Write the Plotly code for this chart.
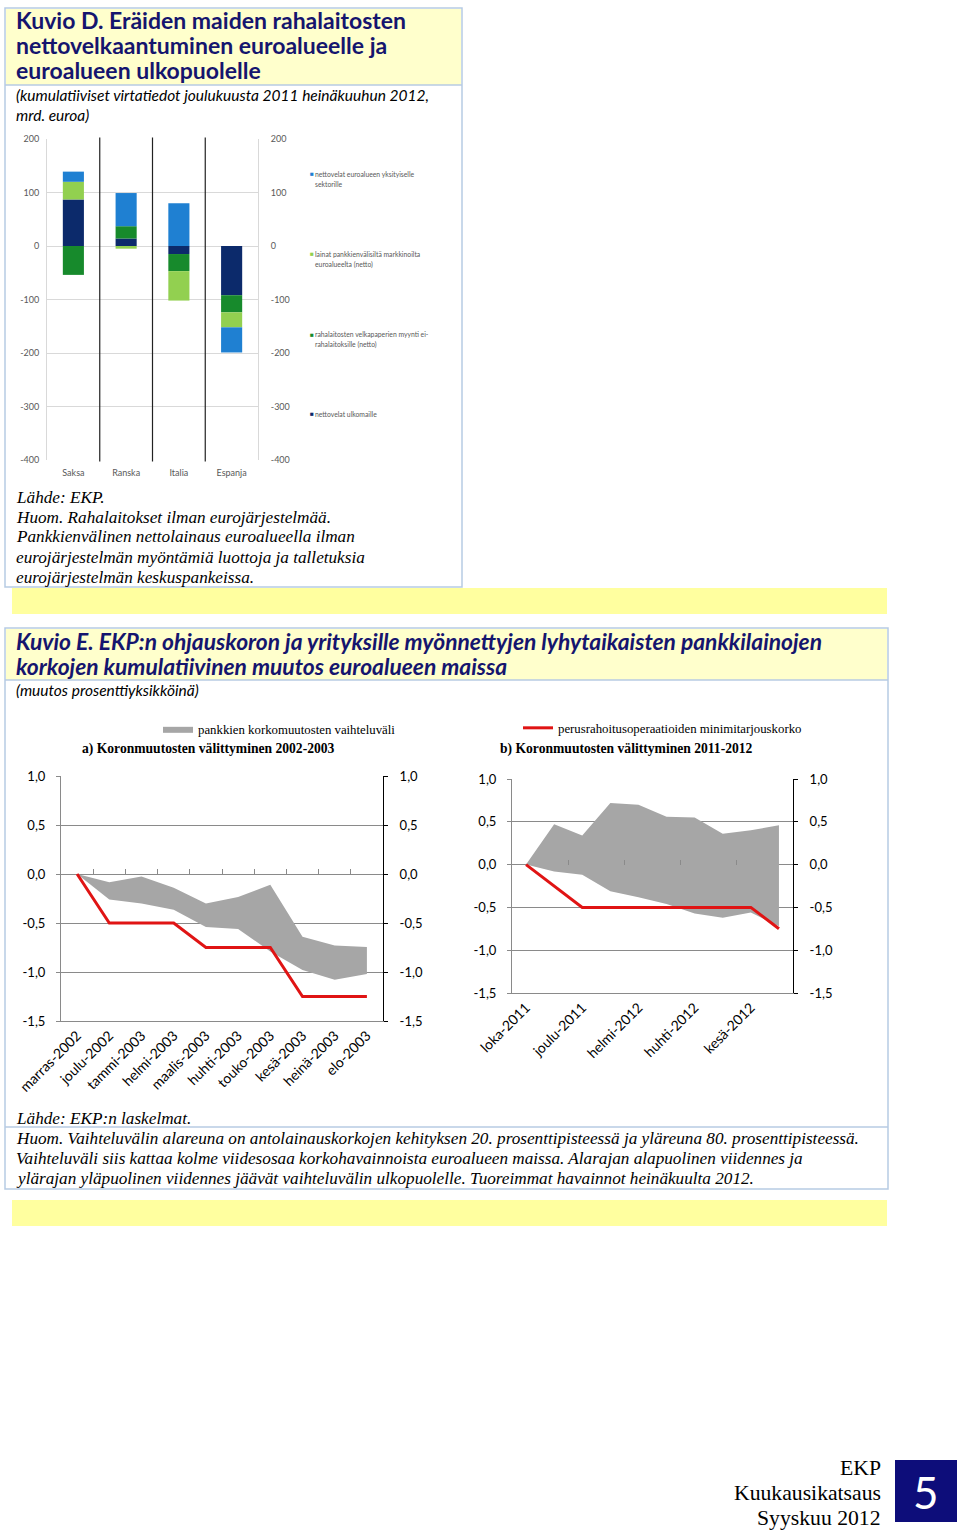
import plotly.graph_objects as go

W, H = 960, 1531

# ---------------- Kuvio D data (mrd. euroa) ----------------
COUNTRIES = ["Saksa", "Ranska", "Italia", "Espanja"]
D_ULKOMAILLE = [87, 14, -15, -92]          # nettovelat ulkomaille
D_VELKAPAPERIT = [-54, 23, -32, -32]       # rahalaitosten velkapaperien myynti
D_PANKKIENVALISET = [33, -5, -55, -28]     # lainat pankkienvälisiltä markkinoilta
D_YKSITYISELLE = [19, 62, 80, -47]         # nettovelat euroalueen yksityiselle sektorille
D_TICKS = [200, 100, 0, -100, -200, -300, -400]
D_TICKTEXT = ["200", "100", "0", "-100", "-200", "-300", "-400"]

# ---------------- Kuvio E data (prosenttiyksikköä) ----------------
MONTHS_A = ["marras-2002", "joulu-2002", "tammi-2003", "helmi-2003", "maalis-2003",
            "huhti-2003", "touko-2003", "kesä-2003", "heinä-2003", "elo-2003"]
ECB_A = [0, -0.5, -0.5, -0.5, -0.75, -0.75, -0.75, -1.25, -1.25, -1.25]
BAND_A_HIGH = [0, -0.085, -0.025, -0.14, -0.30, -0.235, -0.11, -0.64, -0.73, -0.745]
BAND_A_LOW = [0, -0.26, -0.30, -0.365, -0.54, -0.56, -0.79, -0.98, -1.08, -1.02]

MONTHS_B = ["loka-2011", "marras-2011", "joulu-2011", "tammi-2012", "helmi-2012",
            "maalis-2012", "huhti-2012", "touko-2012", "kesä-2012", "heinä-2012"]
MONTHS_B_LABELED = ["loka-2011", "joulu-2011", "helmi-2012", "huhti-2012", "kesä-2012"]
ECB_B = [0, -0.25, -0.5, -0.5, -0.5, -0.5, -0.5, -0.5, -0.5, -0.75]
BAND_B_HIGH = [0, 0.47, 0.34, 0.72, 0.70, 0.56, 0.55, 0.36, 0.40, 0.46]
BAND_B_LOW = [0, -0.08, -0.12, -0.31, -0.38, -0.46, -0.57, -0.62, -0.56, -0.72]

E_TICKS = [1.0, 0.5, 0.0, -0.5, -1.0, -1.5]
E_TICKTEXT = ["1,0", "0,5", "0,0", "-0,5", "-1,0", "-1,5"]

# ---------------- styling ----------------
NAVY = "#0c2a6b"
DGREEN = "#178a2c"
LGREEN = "#92d050"
BLUE = "#1f80d2"
BAND = "#a6a6a6"
RED = "#e01414"
TITLE_C = "#15156e"
BORDER = "#b7cbe3"
PALE = "#ffffcc"
YEL = "#ffff9f"
SERIF = "Liberation Serif"
SANS = "Lato"


def px(x):
    return x / W


def py(y):
    return 1 - y / H


fig = go.Figure()

# ---- Kuvio D bars
for name, vals, col in [
    ("nettovelat ulkomaille", D_ULKOMAILLE, NAVY),
    ("rahalaitosten velkapaperien myynti ei-rahalaitoksille (netto)", D_VELKAPAPERIT, DGREEN),
    ("lainat pankkienvälisiltä markkinoilta euroalueelta (netto)", D_PANKKIENVALISET, LGREEN),
    ("nettovelat euroalueen yksityiselle sektorille", D_YKSITYISELLE, BLUE),
]:
    fig.add_trace(go.Bar(x=COUNTRIES, y=vals, name=name, marker=dict(color=col, line=dict(width=0)),
                         width=0.4, xaxis="x", yaxis="y", showlegend=False))
# invisible companion so the right-hand axis of Kuvio D is drawn
fig.add_trace(go.Scatter(x=COUNTRIES, y=D_ULKOMAILLE, mode="markers", marker=dict(opacity=0),
                         xaxis="x", yaxis="y2", showlegend=False, hoverinfo="skip"))

# ---- Kuvio E a
fig.add_trace(go.Scatter(x=MONTHS_A, y=BAND_A_LOW, mode="lines", line=dict(width=0, color=BAND),
                         xaxis="x2", yaxis="y3", showlegend=False, hoverinfo="skip"))
fig.add_trace(go.Scatter(x=MONTHS_A, y=BAND_A_HIGH, mode="lines", line=dict(width=0, color=BAND),
                         fill="tonexty", fillcolor=BAND, name="pankkien korkomuutosten vaihteluväli",
                         xaxis="x2", yaxis="y3", showlegend=True, legend="legend"))
fig.add_trace(go.Scatter(x=MONTHS_A, y=ECB_A, mode="lines", line=dict(width=3, color=RED),
                         name="perusrahoitusoperaatioiden minimitarjouskorko",
                         xaxis="x2", yaxis="y3", showlegend=True, legend="legend2"))
# invisible companions for right axis and zero-line tick axis
fig.add_trace(go.Scatter(x=MONTHS_A, y=ECB_A, mode="markers", marker=dict(opacity=0),
                         xaxis="x2", yaxis="y4", showlegend=False, hoverinfo="skip"))
fig.add_trace(go.Scatter(x=list(range(len(MONTHS_A))), y=ECB_A, mode="markers", marker=dict(opacity=0),
                         xaxis="x3", yaxis="y3", showlegend=False, hoverinfo="skip"))

# ---- Kuvio E b
fig.add_trace(go.Scatter(x=MONTHS_B, y=BAND_B_LOW, mode="lines", line=dict(width=0, color=BAND),
                         xaxis="x4", yaxis="y5", showlegend=False, hoverinfo="skip"))
fig.add_trace(go.Scatter(x=MONTHS_B, y=BAND_B_HIGH, mode="lines", line=dict(width=0, color=BAND),
                         fill="tonexty", fillcolor=BAND, name="pankkien korkomuutosten vaihteluväli",
                         xaxis="x4", yaxis="y5", showlegend=False))
fig.add_trace(go.Scatter(x=MONTHS_B, y=ECB_B, mode="lines", line=dict(width=3, color=RED),
                         name="perusrahoitusoperaatioiden minimitarjouskorko",
                         xaxis="x4", yaxis="y5", showlegend=False))
fig.add_trace(go.Scatter(x=MONTHS_B, y=ECB_B, mode="markers", marker=dict(opacity=0),
                         xaxis="x4", yaxis="y6", showlegend=False, hoverinfo="skip"))
fig.add_trace(go.Scatter(x=list(range(len(MONTHS_B))), y=ECB_B, mode="markers", marker=dict(opacity=0),
                         xaxis="x5", yaxis="y5", showlegend=False, hoverinfo="skip"))

grayD = "#d9d9d9"
tickD = dict(family=SANS, size=9, color="#595959")
gridE = "#8a8a8a"
tickE = dict(family=SANS, size=13, color="#000000")

layout_axes = dict(
    # Kuvio D
    xaxis=dict(domain=[px(47), px(258)], anchor="y", type="category", categoryarray=COUNTRIES,
               range=[-0.5, 3.5], showgrid=False, ticks="", tickfont=tickD, showline=False,
               ticklabelstandoff=6, automargin=False),
    yaxis=dict(domain=[py(460), py(139)], anchor="x", range=[-400, 200], tickvals=D_TICKS,
               ticktext=D_TICKTEXT, gridcolor=grayD, showline=True, linecolor=grayD, zeroline=False,
               ticks="", tickfont=tickD, ticklabelstandoff=5, automargin=False),
    yaxis2=dict(overlaying="y", side="right", anchor="x", range=[-400, 200], tickvals=D_TICKS,
                ticktext=D_TICKTEXT, showgrid=False, showline=True, linecolor=grayD, zeroline=False,
                ticks="", tickfont=tickD, ticklabelstandoff=10, automargin=False),
    # Kuvio E a
    xaxis2=dict(domain=[px(61), px(383)], anchor="y3", type="category", categoryarray=MONTHS_A,
                range=[-0.5, 9.5], tickangle=-45, tickfont=dict(family=SANS, size=14, color="#000"),
                showgrid=False, showline=True, linecolor=gridE, ticks="", automargin=False),
    yaxis3=dict(domain=[py(1021), py(776)], anchor="x2", range=[-1.5, 1.0], tickvals=E_TICKS,
                ticktext=E_TICKTEXT, gridcolor=gridE, showline=True, linecolor=gridE, zeroline=False,
                ticks="outside", ticklen=4, tickcolor=gridE, tickfont=tickE, ticklabelstandoff=8,
                automargin=False),
    yaxis4=dict(overlaying="y3", side="right", anchor="x2", range=[-1.5, 1.0], tickvals=E_TICKS,
                ticktext=E_TICKTEXT, showgrid=False, showline=True, linecolor="#000", zeroline=False,
                ticks="outside", ticklen=4, tickcolor="#000", tickfont=tickE, ticklabelstandoff=9,
                automargin=False),
    xaxis3=dict(overlaying="x2", anchor="free", position=py(874), range=[-0.5, 9.5],
                tickvals=[0.5, 1.5, 2.5, 3.5, 4.5, 5.5, 6.5, 7.5, 8.5], ticks="inside", ticklen=5,
                tickcolor=gridE, showticklabels=False, showgrid=False, showline=False, zeroline=False,
                automargin=False),
    # Kuvio E b
    xaxis4=dict(domain=[px(512), px(793)], anchor="y5", type="category", categoryarray=MONTHS_B,
                range=[-0.5, 9.5], tickvals=MONTHS_B_LABELED, tickangle=-45,
                tickfont=dict(family=SANS, size=14, color="#000"),
                showgrid=False, showline=True, linecolor=gridE, ticks="", automargin=False),
    yaxis5=dict(domain=[py(993), py(779)], anchor="x4", range=[-1.5, 1.0], tickvals=E_TICKS,
                ticktext=E_TICKTEXT, gridcolor=gridE, showline=True, linecolor=gridE, zeroline=False,
                ticks="outside", ticklen=4, tickcolor=gridE, tickfont=tickE, ticklabelstandoff=8,
                automargin=False),
    yaxis6=dict(overlaying="y5", side="right", anchor="x4", range=[-1.5, 1.0], tickvals=E_TICKS,
                ticktext=E_TICKTEXT, showgrid=False, showline=True, linecolor="#000", zeroline=False,
                ticks="outside", ticklen=4, tickcolor="#000", tickfont=tickE, ticklabelstandoff=9,
                automargin=False),
    xaxis5=dict(overlaying="x4", anchor="free", position=py(864.5), range=[-0.5, 9.5],
                tickvals=[1.5, 3.5, 5.5, 7.5], ticks="inside", ticklen=5,
                tickcolor=gridE, showticklabels=False, showgrid=False, showline=False, zeroline=False,
                automargin=False),
)

shapes = []
# boxes & fills
shapes.append(dict(type="rect", xref="paper", yref="paper", x0=px(6), x1=px(461), y0=py(85), y1=py(9),
                   fillcolor=PALE, line=dict(width=0), layer="below"))
shapes.append(dict(type="rect", xref="paper", yref="paper", x0=px(5), x1=px(462), y0=py(587), y1=py(8),
                   line=dict(color=BORDER, width=1.5), layer="below"))
shapes.append(dict(type="line", xref="paper", yref="paper", x0=px(5), x1=px(462), y0=py(85), y1=py(85),
                   line=dict(color=BORDER, width=1.5)))
shapes.append(dict(type="rect", xref="paper", yref="paper", x0=px(12), x1=px(887), y0=py(614), y1=py(588),
                   fillcolor=YEL, line=dict(width=0), layer="below"))
shapes.append(dict(type="rect", xref="paper", yref="paper", x0=px(6), x1=px(887), y0=py(680), y1=py(629),
                   fillcolor=PALE, line=dict(width=0), layer="below"))
shapes.append(dict(type="rect", xref="paper", yref="paper", x0=px(5), x1=px(888), y0=py(1189), y1=py(628),
                   line=dict(color=BORDER, width=1.5), layer="below"))
shapes.append(dict(type="line", xref="paper", yref="paper", x0=px(5), x1=px(888), y0=py(680), y1=py(680),
                   line=dict(color=BORDER, width=1.5)))
shapes.append(dict(type="line", xref="paper", yref="paper", x0=px(5), x1=px(888), y0=py(1127), y1=py(1127),
                   line=dict(color=BORDER, width=1.5)))
shapes.append(dict(type="rect", xref="paper", yref="paper", x0=px(12), x1=px(887), y0=py(1226), y1=py(1200),
                   fillcolor=YEL, line=dict(width=0), layer="below"))
shapes.append(dict(type="rect", xref="paper", yref="paper", x0=px(895), x1=px(957), y0=py(1522), y1=py(1460),
                   fillcolor="#0d0d7a", line=dict(width=0), layer="below"))
# category separators in Kuvio D
for b in [0.5, 1.5, 2.5]:
    shapes.append(dict(type="line", xref="x", yref="y domain", x0=b, x1=b, y0=-0.005, y1=1.005,
                       line=dict(color="#222222", width=1.2)))

ann = []


def text(x, y, s, size, family=SERIF, color="#000", style="normal", weight="normal", xanchor="left"):
    ann.append(dict(x=px(x), y=py(y), xref="paper", yref="paper", text=s, showarrow=False,
                    xanchor=xanchor, yanchor="middle", align="left",
                    font=dict(family=family, size=size, color=color, style=style, weight=weight)))


# Kuvio D header
text(14, 20, "Kuvio D. Eräiden maiden rahalaitosten", 23, SANS, TITLE_C, weight="bold")
text(14, 45, "nettovelkaantuminen euroalueelle ja", 23, SANS, TITLE_C, weight="bold")
text(14, 70, "euroalueen ulkopuolelle", 23, SANS, TITLE_C, weight="bold")
text(14, 95, "(kumulatiiviset virtatiedot joulukuusta 2011 heinäkuuhun 2012,", 15.5, SANS, "#000", style="italic")
text(14, 115, "mrd. euroa)", 15.5, SANS, "#000", style="italic")

# Kuvio D legend (keys + labels)
leg_items = [
    (174, BLUE, "nettovelat euroalueen yksityiselle", "sektorille"),
    (254, LGREEN, "lainat pankkienvälisiltä markkinoilta", "euroalueelta (netto)"),
    (334, DGREEN, "rahalaitosten velkapaperien myynti ei-", "rahalaitoksille (netto)"),
    (414, NAVY, "nettovelat ulkomaille", None),
]
for yy, col, l1, l2 in leg_items:
    text(308, yy, "■", 6.5, SANS, col)
    text(313, yy, l1, 6.8, SANS, "#595959")
    if l2:
        text(313, yy + 10, l2, 6.8, SANS, "#595959")

# Kuvio D notes
notes_d = ["Lähde: EKP.", "Huom. Rahalaitokset ilman eurojärjestelmää.",
           "Pankkienvälinen nettolainaus euroalueella ilman",
           "eurojärjestelmän myöntämiä luottoja ja talletuksia",
           "eurojärjestelmän keskuspankeissa."]
for i, s in enumerate(notes_d):
    text(14, 497 + i * 20, s, 17.2, SERIF, "#000", style="italic")

# Kuvio E header
text(14, 641, "Kuvio E. EKP:n ohjauskoron ja yrityksille myönnettyjen lyhytaikaisten pankkilainojen", 22.8,
     SANS, TITLE_C, style="italic", weight="bold")
text(14, 666, "korkojen kumulatiivinen muutos euroalueen maissa", 22.8, SANS, TITLE_C, style="italic", weight="bold")
text(14, 690, "(muutos prosenttiyksikköinä)", 15.5, SANS, "#000", style="italic")

text(80, 749, "a) Koronmuutosten välittyminen 2002-2003", 13.6, SERIF, "#000", weight="bold")
text(498, 749, "b) Koronmuutosten välittyminen 2011-2012", 13.6, SERIF, "#000", weight="bold")

notes_e = ["Huom. Vaihteluvälin alareuna on antolainauskorkojen kehityksen 20. prosenttipisteessä ja yläreuna 80. prosenttipisteessä.",
           "Vaihteluväli siis kattaa kolme viidesosaa korkohavainnoista euroalueen maissa. Alarajan alapuolinen viidennes ja",
           "ylärajan yläpuolinen viidennes jäävät vaihteluvälin ulkopuolelle. Tuoreimmat havainnot heinäkuulta 2012."]
text(14, 1118, "Lähde: EKP:n laskelmat.", 17.2, SERIF, "#000", style="italic")
for i, s in enumerate(notes_e):
    text(14, 1138 + i * 20, s, 17.2, SERIF, "#000", style="italic")

# footer
text(883, 1468, "EKP", 21.7, SERIF, "#000", xanchor="right")
text(883, 1493, "Kuukausikatsaus", 21.7, SERIF, "#000", xanchor="right")
text(883, 1518, "Syyskuu 2012", 21.7, SERIF, "#000", xanchor="right")
ann.append(dict(x=px(926), y=py(1492), xref="paper", yref="paper", text="5", showarrow=False,
                xanchor="center", yanchor="middle", font=dict(family=SANS, size=44, color="#ffffff")))

fig.update_layout(
    width=W, height=H, margin=dict(l=0, r=0, t=0, b=0, pad=0, autoexpand=False),
    paper_bgcolor="white", plot_bgcolor="rgba(0,0,0,0)",
    barmode="relative", bargap=0.6,
    shapes=shapes, annotations=ann,
    legend=dict(x=px(158), y=py(729), xanchor="left", yanchor="middle", bgcolor="rgba(0,0,0,0)",
                font=dict(family=SERIF, size=12.8, color="#000")),
    legend2=dict(x=px(518), y=py(728), xanchor="left", yanchor="middle", bgcolor="rgba(0,0,0,0)",
                 font=dict(family=SERIF, size=12.8, color="#000")),
    **layout_axes,
)

fig.write_html("out.html", config={"displayModeBar": False},
               post_script="document.body.style.margin='0';")
